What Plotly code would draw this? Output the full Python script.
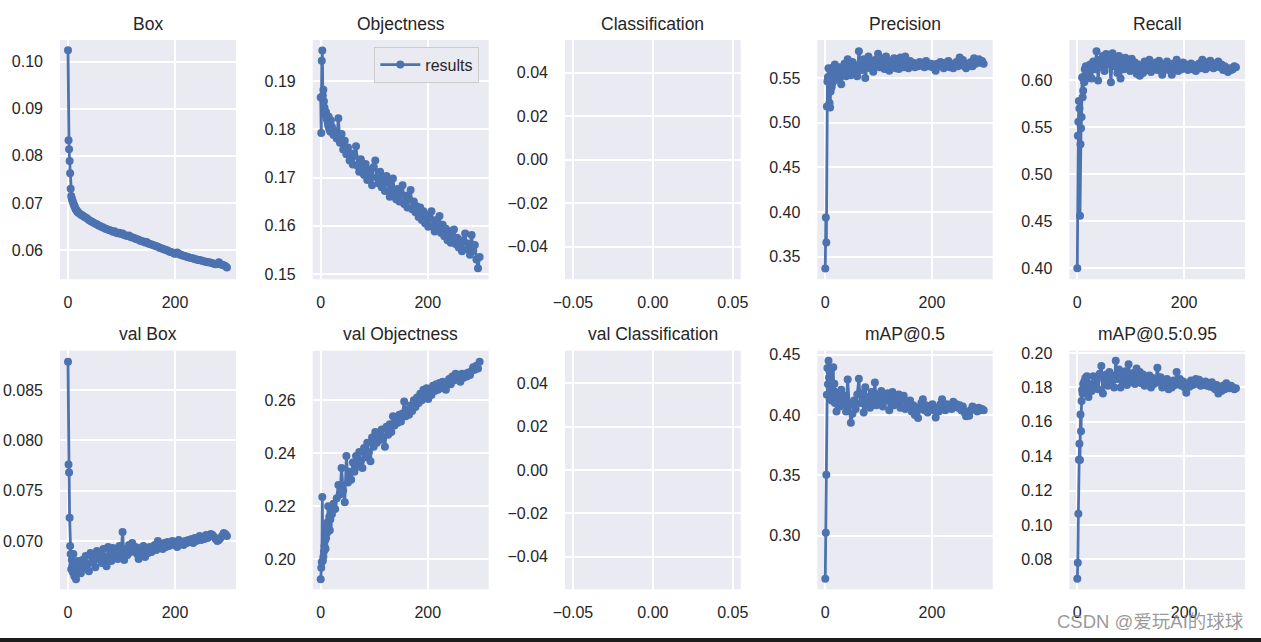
import plotly.graph_objects as go
from plotly.subplots import make_subplots

EPOCHS = list(range(20)) + list(range(21, 298, 3))

TITLES = ["Box", "Objectness", "Classification", "Precision", "Recall",
          "val Box", "val Objectness", "val Classification", "mAP@0.5", "mAP@0.5:0.95"]

BOX = [0.1024, 0.0833, 0.0814, 0.0789, 0.0763, 0.0730, 0.0715, 0.0710, 0.0706, 0.0703,
       0.0699, 0.0697, 0.0693, 0.0691, 0.0688, 0.0686, 0.0684, 0.0683, 0.0681, 0.0680,
       0.0678, 0.0675, 0.0674, 0.0671, 0.0669, 0.0667, 0.0664, 0.0662, 0.0660, 0.0658,
       0.0656, 0.0655, 0.0652, 0.0651, 0.0649, 0.0648, 0.0646, 0.0645, 0.0643, 0.0642,
       0.0641, 0.0639, 0.0640, 0.0637, 0.0636, 0.0637, 0.0634, 0.0635, 0.0632, 0.0631,
       0.0630, 0.0631, 0.0628, 0.0627, 0.0626, 0.0624, 0.0623, 0.0622, 0.0620, 0.0619,
       0.0618, 0.0616, 0.0617, 0.0614, 0.0613, 0.0612, 0.0611, 0.0609, 0.0608, 0.0607,
       0.0605, 0.0604, 0.0603, 0.0601, 0.0600, 0.0599, 0.0597, 0.0596, 0.0595, 0.0593,
       0.0592, 0.0595, 0.0592, 0.0590, 0.0589, 0.0588, 0.0587, 0.0586, 0.0585, 0.0584,
       0.0583, 0.0582, 0.0581, 0.0580, 0.0579, 0.0579, 0.0578, 0.0577, 0.0576, 0.0575,
       0.0574, 0.0574, 0.0573, 0.0572, 0.0571, 0.0570, 0.0571, 0.0574, 0.0570, 0.0569,
       0.0568, 0.0566, 0.0563]

OBJ = [0.1866, 0.1792, 0.1942, 0.1963, 0.1870, 0.1882, 0.1858, 0.1845, 0.1838, 0.1830,
       0.1835, 0.1822, 0.1828, 0.1815, 0.1808, 0.1826, 0.1800, 0.1812, 0.1795, 0.1818,
       0.1805, 0.1788, 0.1796, 0.1781, 0.1823, 0.1772, 0.1790, 0.1758, 0.1776, 0.1748,
       0.1762, 0.1735, 0.1750, 0.1727, 0.1745, 0.1765, 0.1724, 0.1712, 0.1738, 0.1718,
       0.1705, 0.1728, 0.1695, 0.1716, 0.1702, 0.1684, 0.1722, 0.1735, 0.1700, 0.1688,
       0.1712, 0.1680, 0.1697, 0.1672, 0.1703, 0.1690, 0.1660, 0.1682, 0.1698, 0.1668,
       0.1655, 0.1676, 0.1650, 0.1666, 0.1684, 0.1645, 0.1662, 0.1638, 0.1655, 0.1674,
       0.1634, 0.1650, 0.1628, 0.1640, 0.1618, 0.1638, 0.1612, 0.1630, 0.1605, 0.1622,
       0.1598, 0.1616, 0.1630, 0.1600, 0.1588, 0.1612, 0.1595, 0.1620, 0.1585, 0.1602,
       0.1578, 0.1594, 0.1570, 0.1588, 0.1565, 0.1580, 0.1592, 0.1562, 0.1575, 0.1555,
       0.1570, 0.1547, 0.1568, 0.1584, 0.1552, 0.1563, 0.1540, 0.1581, 0.1548, 0.1560,
       0.1530, 0.1512, 0.1535]

PRECISION = [0.337, 0.394, 0.366, 0.518, 0.546, 0.551, 0.561, 0.548, 0.522, 0.517,
             0.535, 0.552, 0.540, 0.558, 0.545, 0.562, 0.550, 0.556, 0.565, 0.548,
             0.556, 0.549, 0.562, 0.543, 0.558, 0.566, 0.552, 0.571, 0.560, 0.553,
             0.568, 0.558, 0.564, 0.552, 0.580, 0.566, 0.559, 0.571, 0.550, 0.563,
             0.574, 0.561, 0.568, 0.557, 0.570, 0.563, 0.577, 0.562, 0.572, 0.566,
             0.560, 0.574, 0.565, 0.558, 0.569, 0.563, 0.572, 0.561, 0.567, 0.560,
             0.573, 0.565, 0.562, 0.574, 0.566, 0.561, 0.569, 0.564, 0.567, 0.562,
             0.566, 0.563, 0.568, 0.564, 0.567, 0.562, 0.569, 0.565, 0.563, 0.566,
             0.562, 0.565, 0.558, 0.566, 0.563, 0.568, 0.564, 0.561, 0.567, 0.563,
             0.569, 0.562, 0.566, 0.561, 0.565, 0.568, 0.563, 0.573, 0.566, 0.570,
             0.563, 0.561, 0.566, 0.564, 0.568, 0.563, 0.572, 0.566, 0.570, 0.571,
             0.567, 0.569, 0.566]

RECALL = [0.400, 0.541, 0.556, 0.578, 0.570, 0.456, 0.532, 0.549, 0.561, 0.603,
          0.582, 0.589, 0.604, 0.598, 0.612, 0.601, 0.615, 0.607, 0.610, 0.603,
          0.608, 0.617, 0.602, 0.620, 0.612, 0.631, 0.600, 0.622, 0.614, 0.626,
          0.610, 0.628, 0.617, 0.623, 0.598, 0.629, 0.615, 0.621, 0.608, 0.626,
          0.602, 0.619, 0.612, 0.624, 0.616, 0.621, 0.610, 0.623, 0.614, 0.619,
          0.607, 0.617, 0.605, 0.613, 0.608, 0.620, 0.611, 0.616, 0.622, 0.609,
          0.615, 0.612, 0.619, 0.611, 0.621, 0.613, 0.606, 0.617, 0.612, 0.620,
          0.611, 0.615, 0.606, 0.618, 0.613, 0.622, 0.610, 0.616, 0.612, 0.619,
          0.613, 0.617, 0.611, 0.615, 0.618, 0.612, 0.616, 0.610, 0.614, 0.618,
          0.613, 0.622, 0.616, 0.612, 0.619, 0.614, 0.621, 0.617, 0.613, 0.618,
          0.615, 0.620, 0.614, 0.617, 0.611, 0.615, 0.613, 0.609, 0.613, 0.611,
          0.612, 0.615, 0.614]

VAL_BOX = [0.0878, 0.0776, 0.0768, 0.0723, 0.0695, 0.0687, 0.0672, 0.0681, 0.0676, 0.0669,
           0.0687, 0.0673, 0.0665, 0.0678, 0.0670, 0.0662, 0.0675, 0.0668, 0.0680, 0.0671,
           0.0675, 0.0668, 0.0681, 0.0673, 0.0685, 0.0677, 0.0670, 0.0688, 0.0679, 0.0685,
           0.0674, 0.0690, 0.0682, 0.0688, 0.0678, 0.0692, 0.0684, 0.0675, 0.0694, 0.0686,
           0.0680, 0.0693, 0.0685, 0.0690, 0.0682, 0.0695, 0.0687, 0.0709, 0.0681, 0.0692,
           0.0686, 0.0696, 0.0689, 0.0698, 0.0690, 0.0694, 0.0687, 0.0682, 0.0693, 0.0689,
           0.0695, 0.0684, 0.0692, 0.0688, 0.0694, 0.0689, 0.0692, 0.0696, 0.0691, 0.0700,
           0.0693, 0.0697, 0.0692, 0.0698, 0.0694, 0.0699, 0.0695, 0.0697, 0.0700, 0.0696,
           0.0699, 0.0694, 0.0701, 0.0697, 0.0699, 0.0696, 0.0700, 0.0698, 0.0701, 0.0699,
           0.0702, 0.0698, 0.0703, 0.0700, 0.0702, 0.0705, 0.0701, 0.0704, 0.0702, 0.0706,
           0.0703, 0.0705, 0.0707, 0.0706, 0.0704, 0.0702, 0.0700, 0.0701, 0.0703, 0.0705,
           0.0708, 0.0707, 0.0705]

VAL_OBJ = [0.1925, 0.1968, 0.1990, 0.2235, 0.1995, 0.2010, 0.2030, 0.2050, 0.2070, 0.2040,
           0.2080, 0.2120, 0.2100, 0.2140, 0.2200, 0.2130, 0.2160, 0.2110, 0.2150, 0.2180,
           0.2170, 0.2210, 0.2190, 0.2230, 0.2280, 0.2245, 0.2345, 0.2260, 0.2215, 0.2390,
           0.2290, 0.2330, 0.2300, 0.2365, 0.2330, 0.2390, 0.2350, 0.2405, 0.2370, 0.2345,
           0.2420, 0.2385, 0.2440, 0.2405, 0.2370, 0.2460, 0.2425, 0.2480, 0.2440, 0.2475,
           0.2450, 0.2490, 0.2460, 0.2425, 0.2500, 0.2470, 0.2510, 0.2480, 0.2540, 0.2505,
           0.2535, 0.2515, 0.2545, 0.2520, 0.2550, 0.2595, 0.2540, 0.2565, 0.2545, 0.2580,
           0.2560, 0.2600, 0.2575, 0.2610, 0.2590, 0.2625, 0.2600, 0.2640, 0.2620, 0.2645,
           0.2605, 0.2640, 0.2620, 0.2655, 0.2635, 0.2660, 0.2640, 0.2665, 0.2645, 0.2670,
           0.2655, 0.2640, 0.2665, 0.2680, 0.2660, 0.2690, 0.2675, 0.2700, 0.2680, 0.2695,
           0.2670, 0.2700, 0.2685, 0.2700, 0.2690, 0.2705, 0.2695, 0.2710, 0.2725, 0.2715,
           0.2730, 0.2720, 0.2745]

MAP50 = [0.2643, 0.3025, 0.3505, 0.4168, 0.4390, 0.4255, 0.4450, 0.4310, 0.4360, 0.4220,
         0.4150, 0.4280, 0.4120, 0.4250, 0.4180, 0.4395, 0.4200, 0.4260, 0.4100, 0.4150,
         0.4030, 0.4180, 0.4070, 0.4210, 0.4090, 0.4160, 0.4030, 0.4295, 0.4080, 0.3935,
         0.4010, 0.4120, 0.4050, 0.4170, 0.4300, 0.4100, 0.4180, 0.4020, 0.4230, 0.4080,
         0.4150, 0.4060, 0.4190, 0.4110, 0.4270, 0.4080, 0.4170, 0.4110, 0.4200, 0.4070,
         0.4160, 0.4120, 0.4180, 0.4040, 0.4140, 0.4190, 0.4080, 0.4150, 0.4100, 0.4170,
         0.4060, 0.4120, 0.4160, 0.4050, 0.4110, 0.4070, 0.4120, 0.4030, 0.4080, 0.4000,
         0.4060, 0.3975, 0.4050, 0.4100, 0.4130, 0.4040, 0.4080, 0.4020, 0.4070, 0.4050,
         0.4090, 0.4040, 0.3980, 0.4060, 0.4030, 0.4090, 0.4130, 0.4070, 0.4040, 0.4090,
         0.4060, 0.4080, 0.4050, 0.4110, 0.4070, 0.4090, 0.4060, 0.4080, 0.4040, 0.4070,
         0.4020, 0.3990, 0.4030, 0.3995, 0.4040, 0.4070, 0.4060, 0.4050, 0.4030, 0.4060,
         0.4040, 0.4050, 0.4040]

MAP5095 = [0.0688, 0.0780, 0.1065, 0.1380, 0.1472, 0.1378, 0.1643, 0.1545, 0.1722, 0.1785,
           0.1765, 0.1820, 0.1790, 0.1835, 0.1770, 0.1855, 0.1800, 0.1835, 0.1865, 0.1790,
           0.1745, 0.1820, 0.1780, 0.1865, 0.1800, 0.1850, 0.1790, 0.1880, 0.1925, 0.1765,
           0.1840, 0.1875, 0.1810, 0.1890, 0.1830, 0.1870, 0.1800, 0.1955, 0.1850, 0.1905,
           0.1800, 0.1880, 0.1830, 0.1895, 0.1815, 0.1935, 0.1860, 0.1830, 0.1885, 0.1820,
           0.1910, 0.1850, 0.1890, 0.1825, 0.1875, 0.1810, 0.1860, 0.1830, 0.1870, 0.1800,
           0.1855, 0.1820, 0.1840, 0.1915, 0.1830, 0.1860, 0.1800, 0.1845, 0.1810, 0.1850,
           0.1790, 0.1830, 0.1800, 0.1840, 0.1815, 0.1890, 0.1820, 0.1850, 0.1810, 0.1835,
           0.1800, 0.1770, 0.1825, 0.1805, 0.1840, 0.1815, 0.1830, 0.1850, 0.1820, 0.1845,
           0.1810, 0.1830, 0.1815, 0.1835, 0.1810, 0.1825, 0.1805, 0.1830, 0.1800, 0.1790,
           0.1815, 0.1765, 0.1800, 0.1780, 0.1810, 0.1790, 0.1825, 0.1805, 0.1795, 0.1810,
           0.1800, 0.1790, 0.1795]

SERIES = [BOX, OBJ, None, PRECISION, RECALL, VAL_BOX, VAL_OBJ, None, MAP50, MAP5095]

YRANGES = [[0.0538, 0.1046], [0.1489, 0.1985], [-0.055, 0.055], [0.3248, 0.5925], [0.3883, 0.6430],
           [0.0652, 0.0889], [0.1887, 0.2787], [-0.055, 0.055], [0.2556, 0.4533], [0.0626, 0.2014]]
YTICKS = [[0.06, 0.07, 0.08, 0.09, 0.10], [0.15, 0.16, 0.17, 0.18, 0.19],
          [-0.04, -0.02, 0.0, 0.02, 0.04], [0.35, 0.40, 0.45, 0.50, 0.55],
          [0.40, 0.45, 0.50, 0.55, 0.60], [0.070, 0.075, 0.080, 0.085],
          [0.20, 0.22, 0.24, 0.26], [-0.04, -0.02, 0.0, 0.02, 0.04],
          [0.30, 0.35, 0.40, 0.45], [0.08, 0.10, 0.12, 0.14, 0.16, 0.18, 0.20]]
YTEXT = [["0.06", "0.07", "0.08", "0.09", "0.10"], ["0.15", "0.16", "0.17", "0.18", "0.19"],
         ["\u22120.04", "\u22120.02", "0.00", "0.02", "0.04"], ["0.35", "0.40", "0.45", "0.50", "0.55"],
         ["0.40", "0.45", "0.50", "0.55", "0.60"], ["0.070", "0.075", "0.080", "0.085"],
         ["0.20", "0.22", "0.24", "0.26"], ["\u22120.04", "\u22120.02", "0.00", "0.02", "0.04"],
         ["0.30", "0.35", "0.40", "0.45"], ["0.08", "0.10", "0.12", "0.14", "0.16", "0.18", "0.20"]]
XTICKS_EPOCH = [0, 200]
XTEXT_EPOCH = ["0", "200"]
XTICKS_EMPTY = [-0.05, 0.0, 0.05]
XTEXT_EMPTY = ["\u22120.05", "0.00", "0.05"]

W, H = 1261, 642
COL_PX = [(60, 236), (312.7, 488.7), (565, 740.7), (817.3, 992.7), (1069.3, 1245)]
ROW_PX = [(40, 279.3), (350.7, 589.3)]
TITLE_Y = [24, 334]

BLUE = "#4C72B0"
FONT = "Liberation Sans, Arial, sans-serif"
TXT = "#262626"

fig = make_subplots(rows=2, cols=5)

annotations = []
for k in range(10):
    r, c = divmod(k, 5)
    idx = "" if k == 0 else str(k + 1)
    x0, x1 = COL_PX[c]
    y0, y1 = ROW_PX[r]
    data = SERIES[k]
    if data is not None:
        assert len(data) == len(EPOCHS), (TITLES[k], len(data), len(EPOCHS))
        fig.add_trace(go.Scatter(x=EPOCHS, y=data, mode="lines+markers", name="results",
                                 line=dict(color=BLUE, width=2.8),
                                 marker=dict(color=BLUE, size=8),
                                 showlegend=(k == 1)), row=r + 1, col=c + 1)
        xr = [-14.95, 313.95]
        xt, xtt = XTICKS_EPOCH, XTEXT_EPOCH
    else:
        fig.add_trace(go.Scatter(x=[], y=[], mode="lines", showlegend=False,
                                 hoverinfo="skip"), row=r + 1, col=c + 1)
        xr = [-0.055, 0.055]
        xt, xtt = XTICKS_EMPTY, XTEXT_EMPTY
    axis_common = dict(showgrid=True, gridcolor="white", gridwidth=1.6, zeroline=False,
                       showline=False, ticks="", automargin=False,
                       tickfont=dict(family=FONT, size=16, color=TXT))
    fig.layout["xaxis" + idx].update(domain=[x0 / W, x1 / W], range=xr, tickmode="array",
                                     tickvals=xt, ticktext=xtt, ticklabelstandoff=12, **axis_common)
    fig.layout["yaxis" + idx].update(domain=[1 - y1 / H, 1 - y0 / H], range=YRANGES[k],
                                     tickmode="array", tickvals=YTICKS[k], ticktext=YTEXT[k],
                                     ticklabelstandoff=16, **axis_common)
    annotations.append(dict(text=TITLES[k], x=(x0 + x1) / 2 / W, y=1 - TITLE_Y[r] / H,
                            xref="paper", yref="paper", xanchor="center", yanchor="middle",
                            showarrow=False, font=dict(family=FONT, size=17.5, color=TXT)))

annotations.append(dict(text="CSDN @爱玩AI的球球", x=1246 / W, y=1 - 621 / H, xref="paper", yref="paper",
                        xanchor="right", yanchor="middle", showarrow=False,
                        font=dict(family="Liberation Sans, Noto Sans CJK SC, sans-serif", size=18.5,
                                  color="rgba(135,135,135,0.85)")))

fig.update_layout(
    width=W, height=H, margin=dict(l=0, r=0, t=0, b=0, pad=0, autoexpand=False),
    autosize=False,
    paper_bgcolor="white", plot_bgcolor="#EAEAF2",
    annotations=annotations,
    showlegend=True,
    legend=dict(x=374.3 / W, y=1 - 46.7 / H, xanchor="left", yanchor="top",
                bgcolor="#EAEAF2", bordercolor="#CCCCCC", borderwidth=1, itemwidth=40,
                font=dict(family=FONT, size=16, color=TXT)),
    shapes=[dict(type="rect", xref="paper", yref="paper", x0=0, x1=1, y0=0, y1=4 / H,
                 fillcolor="#1c1c1c", line=dict(width=0), layer="above")],
)

fig.write_html(
    "out.html",
    config={"displayModeBar": False, "responsive": False},
    post_script=("document.documentElement.style.margin='0';"
                 "document.documentElement.style.padding='0';"
                 "document.documentElement.style.overflow='hidden';"
                 "document.body.style.margin='0';document.body.style.padding='0';"
                 "document.body.style.overflow='hidden';"),
)
